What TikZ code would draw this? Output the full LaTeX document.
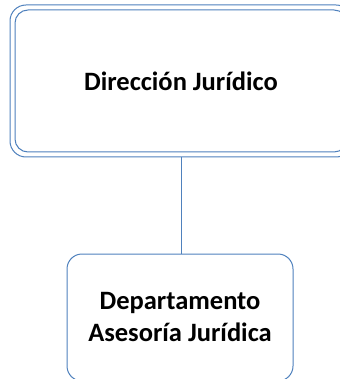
\documentclass[tikz,border=0pt]{standalone}
\usepackage{fontspec}
\setmainfont{Carlito}
\definecolor{boxblue}{HTML}{4F81BD}
\begin{document}
\begin{tikzpicture}[x=1pt,y=-1pt,
  orgbox/.style={draw=boxblue, line width=1pt, rounded corners=16pt, fill=white,
    font=\fontsize{26.5}{32}\selectfont\bfseries, align=center, inner sep=0pt},
  connector/.style={draw=boxblue, line width=1pt}]
\useasboundingbox (0,0) rectangle (339,379);
\node[orgbox, minimum width=342pt, minimum height=152pt] (top) at (181,81) {};
\node[orgbox, rounded corners=13pt, minimum width=332pt, minimum height=142pt] (topin) at (181,81) {Dirección Jurídico};
\node[orgbox, rounded corners=15pt, minimum width=226pt, minimum height=127pt] (dep) at (180,317.5) {Departamento\\Asesoría Jurídica};
\draw[connector] (top.south -| 181,0) -- (dep.north -| 181,0);
\end{tikzpicture}
\end{document}
